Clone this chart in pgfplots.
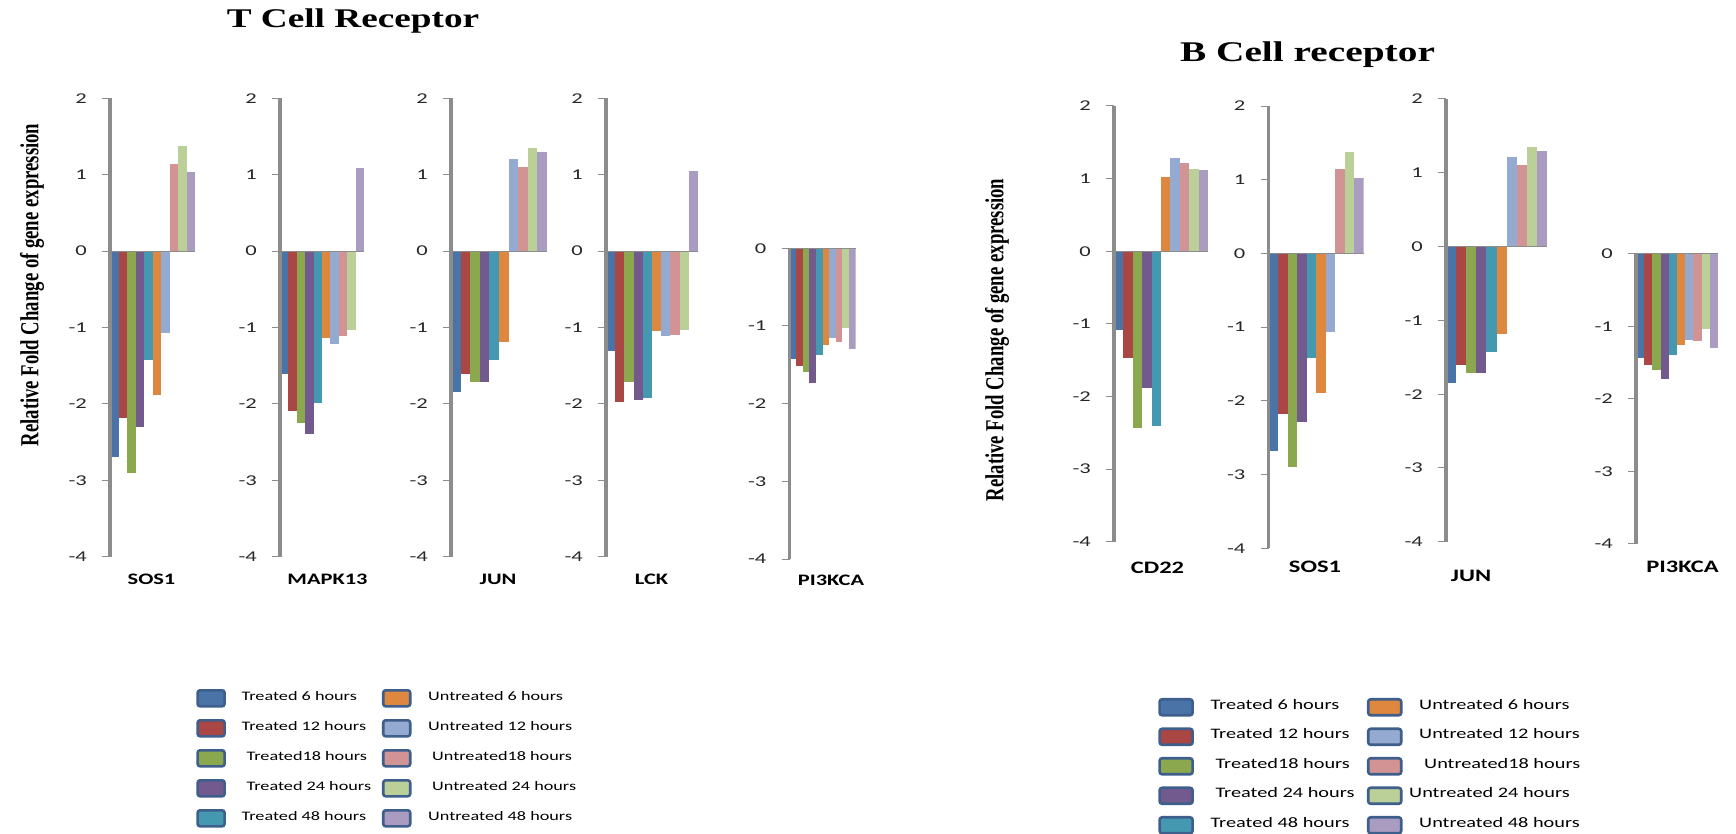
\documentclass[border=0pt]{standalone}
\usepackage{pgfplots}
\pgfplotsset{compat=1.18}
\usepackage{pgfplotstable}
\usepackage{fontspec}
\setmainfont{Carlito}
\newfontfamily\tickfont[FakeStretch=1.4]{Carlito}
\newfontfamily\numfont[FakeStretch=1.5]{Carlito}
\newfontfamily\titlefont[FakeStretch=1.38]{Liberation Serif}
\newfontfamily\ylabfont[FakeStretch=0.72]{Liberation Serif}

% series colours: treated 6/12/18/24/48 h, then untreated 6/12/18/24/48 h
\definecolor{s0}{HTML}{4A74A8}
\definecolor{s1}{HTML}{AA4644}
\definecolor{s2}{HTML}{8BA84F}
\definecolor{s3}{HTML}{735A8E}
\definecolor{s4}{HTML}{4499B0}
\definecolor{s5}{HTML}{DE873F}
\definecolor{s6}{HTML}{94AAD0}
\definecolor{s7}{HTML}{D29394}
\definecolor{s8}{HTML}{BBCF99}
\definecolor{s9}{HTML}{AA9CC0}
\definecolor{axgray}{RGB}{140,140,140}
\definecolor{legedge}{RGB}{62,94,140}

% relative fold change, T cell receptor genes
\pgfplotstableread{
series  SOS1  MAPK13 JUN   LCK   PI3KCA
T6h    -2.69 -1.61  -1.84 -1.31 -1.42
T12h   -2.19 -2.09  -1.61 -1.98 -1.52
T18h   -2.91 -2.25  -1.71 -1.71 -1.59
T24h   -2.30 -2.39  -1.71 -1.95 -1.73
T48h   -1.42 -1.99  -1.43 -1.92 -1.37
U6h    -1.88 -1.14  -1.19 -1.04 -1.24
U12h   -1.07 -1.22   1.21 -1.11 -1.16
U18h    1.14 -1.11   1.10 -1.10 -1.20
U24h    1.37 -1.03   1.35 -1.03 -1.02
U48h    1.03  1.09   1.30  1.05 -1.30
}\Tcell

% relative fold change, B cell receptor genes
\pgfplotstableread{
series  CD22  SOS1  JUN   PI3KCA
T6h    -1.08 -2.68 -1.85 -1.43
T12h   -1.47 -2.18 -1.61 -1.53
T18h   -2.43 -2.90 -1.71 -1.60
T24h   -1.88 -2.29 -1.71 -1.73
T48h   -2.41 -1.42 -1.43 -1.39
U6h     1.02 -1.89 -1.18 -1.25
U12h    1.28 -1.06  1.21 -1.18
U18h    1.21  1.14  1.10 -1.20
U24h    1.13  1.37  1.35 -1.03
U48h    1.12  1.03  1.29 -1.30
}\Bcell

\pgfplotsset{
  panel/.style={
    scale only axis,
    anchor=south west,
    xmin=-0.5, xmax=9.5,
    enlargelimits=false,
    axis y line*=left,
    axis x line*=middle,
    hide obscured x ticks=false,
    hide obscured y ticks=false,
    xtick=\empty,
    y axis line style={axgray, line width=3.5pt},
    x axis line style={axgray, line width=1pt},
    ytick style={axgray, line width=1pt},
    tick align=outside,
    major tick length=8pt,
    yticklabel style={font=\fontsize{15}{17}\numfont, text=black!85, inner sep=0pt, xshift=-15pt},
    every axis x label/.style={at={(axis description cs:0.5,0)}, anchor=center},
    axis on top,
  },
  full/.style={ymin=-4, ymax=2, ytick={-4,...,2}, yticklabels={-4,-3,-2,-1,0,1,2}},
  neg/.style={ymin=-4, ymax=0, ytick={-4,...,0}, yticklabels={-4,-3,-2,-1,0}},
  Tgene/.style={xlabel style={font=\fontsize{16}{18}\tickfont\bfseries}},
  Bgene/.style={xlabel style={font=\fontsize{17.5}{19}\tickfont\bfseries}},
  Tswatch/.style={legend image code/.code={%
    \draw[##1, draw=legedge, line width=2.6pt, rounded corners=2.5pt] (0pt,-9pt) rectangle (27pt,7pt);}},
  Bswatch/.style={legend image code/.code={%
    \draw[##1, draw=legedge, line width=2.6pt, rounded corners=2.5pt] (0pt,-9pt) rectangle (33pt,7pt);}},
}

% ten bars of one gene, one per series; plotted in legend order (row by row)
\newcommand\genebars[3]{%
  \pgfplotsinvokeforeach{0,5,1,6,2,7,3,8,4,9}{%
    \addplot[ybar, bar shift=0pt, bar width=1, fill=s##1, draw=none, #3]
      table[x expr=\coordindex, y=#2, restrict x to domain=##1:##1] {#1};
  }%
}

\newcommand\TA[2]{\makebox[156pt][l]{\hspace*{#1pt}#2}}
\newcommand\TB[2]{\hspace*{#1pt}#2}
\newcommand\BA[2]{\makebox[173pt][l]{\hspace*{#1pt}#2}}
\newcommand\BB[2]{\hspace*{#1pt}#2}

\begin{document}
\begin{tikzpicture}
\path[use as bounding box] (0pt,0pt) rectangle (1736pt,833pt);

% ---------------- T cell receptor ----------------
\node[anchor=base] at (353pt,805pt) {\fontsize{27}{30}\titlefont\bfseries T Cell Receptor};
\node[rotate=90] at (32pt,548pt) {\fontsize{26}{28}\ylabfont\bfseries Relative Fold Change of gene expression};

\begin{axis}[panel, full, Tgene, at={(110pt,276.3pt)}, width=85pt, height=458.4pt,
  xlabel={SOS1}, xlabel style={xshift=-1pt, yshift=-23pt},
  legend columns=2, legend cell align=left,
  legend style={draw=none, fill=none, inner sep=0pt, outer sep=0pt,
    row sep=11.4pt, column sep=0pt,
    nodes={inner sep=0pt, text height=8pt, text depth=2pt, font=\fontsize{13}{15}\tickfont},
    at={(1.0153,-0.2886)}, anchor=north west}]
\genebars{\Tcell}{SOS1}{Tswatch}
\legend{\TA{15.7}{Treated 6 hours}, \TB{16.7}{Untreated 6 hours},
        \TA{15.7}{Treated 12 hours}, \TB{16.7}{Untreated 12 hours},
        \TA{20.7}{Treated18 hours}, \TB{20.7}{Untreated18 hours},
        \TA{20.7}{Treated 24 hours}, \TB{20.7}{Untreated 24 hours},
        \TA{15.7}{Treated 48 hours}, \TB{16.7}{Untreated 48 hours}}
\end{axis}

\begin{axis}[panel, full, Tgene, at={(280pt,276.3pt)}, width=84pt, height=458.4pt,
  xlabel={MAPK13}, xlabel style={xshift=5.5pt, yshift=-23pt}]
\genebars{\Tcell}{MAPK13}{}
\end{axis}

\begin{axis}[panel, full, Tgene, at={(451pt,276.3pt)}, width=96pt, height=458.4pt,
  xlabel={JUN}, xlabel style={xshift=-1pt, yshift=-23pt}]
\genebars{\Tcell}{JUN}{}
\end{axis}

\begin{axis}[panel, full, Tgene, at={(606pt,276.3pt)}, width=92pt, height=458.4pt,
  xlabel={LCK}, xlabel style={xshift=-0.5pt, yshift=-23pt}]
\genebars{\Tcell}{LCK}{}
\end{axis}

\begin{axis}[panel, neg, Tgene, at={(789.5pt,274pt)}, width=66pt, height=310.7pt,
  xlabel={PI3KCA}, xlabel style={xshift=8.5pt, yshift=-21pt}]
\genebars{\Tcell}{PI3KCA}{}
\end{axis}

% ---------------- B cell receptor ----------------
\node[anchor=base] at (1307.5pt,771pt) {\fontsize{28.5}{31}\titlefont\bfseries B Cell receptor};
\node[rotate=90] at (997pt,493pt) {\fontsize{26}{28}\ylabfont\bfseries Relative Fold Change of gene expression};

\begin{axis}[panel, full, Bgene, at={(1114pt,291.3pt)}, width=94pt, height=435.7pt,
  xlabel={CD22}, xlabel style={xshift=-3.5pt, yshift=-26.3pt},
  legend columns=2, legend cell align=left,
  legend style={draw=none, fill=none, inner sep=0pt, outer sep=0pt,
    row sep=10.9pt, column sep=0pt,
    nodes={inner sep=0pt, text height=8pt, text depth=2pt, font=\fontsize{14.5}{16}\tickfont},
    at={(0.4713,-0.3587)}, anchor=north west}]
\genebars{\Bcell}{CD22}{Bswatch}
\legend{\BA{16.7}{Treated 6 hours}, \BB{16.7}{Untreated 6 hours},
        \BA{16.7}{Treated 12 hours}, \BB{16.7}{Untreated 12 hours},
        \BA{21.7}{Treated18 hours}, \BB{21.7}{Untreated18 hours},
        \BA{21.7}{Treated 24 hours}, \BB{6.7}{Untreated 24 hours},
        \BA{16.7}{Treated 48 hours}, \BB{16.7}{Untreated 48 hours}}
\end{axis}

\begin{axis}[panel, full, Bgene, at={(1268.5pt,284.7pt)}, width=95pt, height=442.3pt,
  xlabel={SOS1}, xlabel style={xshift=-1pt, yshift=-18.7pt}]
\genebars{\Bcell}{SOS1}{}
\end{axis}

\begin{axis}[panel, full, Bgene, at={(1446pt,291.3pt)}, width=101pt, height=442.7pt,
  xlabel={JUN}, xlabel style={xshift=-25.5pt, yshift=-34.3pt}]
\genebars{\Bcell}{JUN}{}
\end{axis}

\begin{axis}[panel, neg, Bgene, at={(1636pt,289pt)}, width=82pt, height=290pt,
  xlabel={PI3KCA}, xlabel style={xshift=5.5pt, yshift=-23pt}]
\genebars{\Bcell}{PI3KCA}{}
\end{axis}
\end{tikzpicture}
\end{document}
